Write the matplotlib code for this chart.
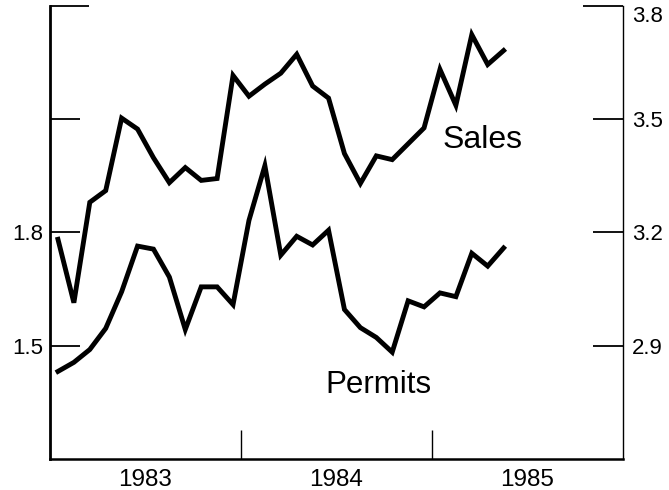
import matplotlib
matplotlib.use("Agg")
import matplotlib.pyplot as plt
import numpy as np

plt.rcParams['font.family'] = ['Liberation Sans', 'DejaVu Sans']

# Monthly data, Jan 1983 - May 1985
sales = [3.182, 3.014, 3.280, 3.311, 3.503, 3.474, 3.398, 3.332, 3.372, 3.338,
         3.343, 3.616, 3.561, 3.593, 3.622, 3.672, 3.588, 3.556, 3.409, 3.330,
         3.403, 3.393, 3.435, 3.477, 3.632, 3.537, 3.724, 3.645, 3.682]
permits = [1.432, 1.456, 1.490, 1.546, 1.643, 1.764, 1.756, 1.682, 1.543, 1.656,
           1.656, 1.609, 1.832, 1.977, 1.740, 1.790, 1.767, 1.806, 1.596, 1.548,
           1.522, 1.483, 1.619, 1.603, 1.640, 1.630, 1.745, 1.711, 1.759]
years = ["1983", "1984", "1985"]
left_labels = ["1.5", "1.8"]
right_labels = ["2.9", "3.2", "3.5", "3.8"]

months = np.arange(len(sales))

fig = plt.figure(figsize=(6.69, 4.90), dpi=100)
ax = fig.add_axes([50/669, 1-459/490, (623-50)/669, (459-6)/490])
ax2 = ax.twinx()

ax.set_xlim(-0.5, 35.5)
ax.set_ylim(1.2, 2.4)
ax2.set_ylim(2.6, 3.8)

ax.plot(months, permits, color='black', lw=3.5, solid_joinstyle='miter', zorder=3)
ax2.plot(months, sales, color='black', lw=3.5, solid_joinstyle='miter', zorder=3)

# spines
for a in (ax, ax2):
    a.spines['top'].set_visible(False)
ax.spines['left'].set_linewidth(2.0)
ax.spines['bottom'].set_linewidth(1.8)
ax.spines['right'].set_visible(False)
ax2.spines['left'].set_visible(False)
ax2.spines['bottom'].set_visible(False)
ax2.spines['right'].set_linewidth(1.0)

# left ticks
ax.set_yticks([1.5, 1.8, 2.1])
ax.set_yticklabels(left_labels + [""])
ax.set_yticks([2.4], minor=True)
ax.tick_params(axis='y', which='major', direction='in', length=21.5, width=1.3,
               labelsize=16, pad=5)
ax.tick_params(axis='y', which='minor', direction='in', length=28, width=1.3)

# right ticks
ax2.set_yticks([2.9, 3.2, 3.5])
ax2.set_yticklabels(right_labels[:3])
ax2.set_yticks([3.8], minor=True)
ax2.set_yticklabels(right_labels[3:], minor=True)
ax2.tick_params(axis='y', which='major', direction='in', length=21.5, width=1.3,
                labelsize=16, pad=6.5)
ax2.tick_params(axis='y', which='minor', direction='in', length=28.5, width=1.3,
                labelsize=16, pad=6.5)
for lab in ax2.yaxis.get_minorticklabels():
    lab.set_verticalalignment('top')

# x ticks: boundaries between years, labels centred in each year
ax.set_xticks([11.5, 23.5])
ax.set_xticklabels(["", ""])
ax.set_xticks([5.5, 17.5, 29.5], minor=True)
ax.set_xticklabels(years, minor=True)
ax.tick_params(axis='x', which='major', direction='in', length=21, width=1.0)
ax.tick_params(axis='x', which='minor', length=0, labelsize=17.5, pad=7)

ax2.text(26.7, 3.4455, "Sales", fontsize=23, ha='center', va='center')
ax.text(20.15, 1.396, "Permits", fontsize=22.5, ha='center', va='center')

fig.savefig("out.png", dpi=100)
